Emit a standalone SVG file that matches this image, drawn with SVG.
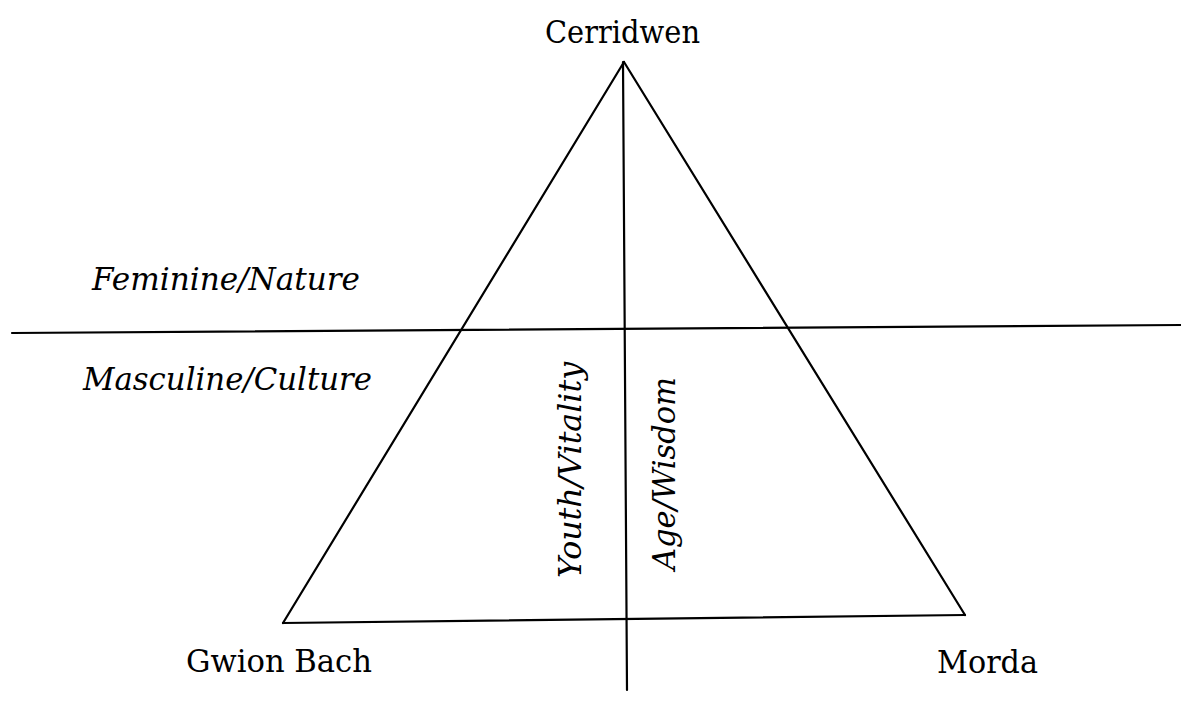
<svg xmlns="http://www.w3.org/2000/svg" width="1181" height="716" viewBox="0 0 1181 716">
<style>
.ln{stroke:#000;stroke-width:2.2;fill:none;stroke-linecap:round}
.lbl{font-family:"DejaVu Serif","Liberation Serif",serif;font-size:31px;fill:#000}
.it{font-family:"DejaVu Serif","Liberation Serif",serif;font-size:31px;font-style:italic;fill:#000}
</style>
<rect width="1181" height="716" fill="#fff"/>
<g id="connectors">
<line class="ln" x1="624" y1="62" x2="283" y2="623"/>
<line class="ln" x1="624" y1="62" x2="965" y2="615"/>
<line class="ln" x1="283" y1="623" x2="965" y2="615"/>
<line class="ln" x1="623" y1="62" x2="627" y2="690"/>
<line class="ln" x1="12" y1="333" x2="1181" y2="325"/>
</g>
<g id="cerridwen"><text class="lbl" x="545" y="43" textLength="155" lengthAdjust="spacingAndGlyphs">Cerridwen</text></g>
<g id="gwion"><text class="lbl" x="186" y="672" textLength="186" lengthAdjust="spacingAndGlyphs">Gwion Bach</text></g>
<g id="morda"><text class="lbl" x="937" y="673" textLength="101" lengthAdjust="spacingAndGlyphs">Morda</text></g>
<g id="feminine"><text class="it" x="92" y="290" textLength="268" lengthAdjust="spacingAndGlyphs">Feminine/Nature</text></g>
<g id="masculine"><text class="it" x="83" y="390" textLength="289" lengthAdjust="spacingAndGlyphs">Masculine/Culture</text></g>
<g id="youth"><text class="it" transform="translate(581,578) rotate(-90)" x="0" y="0" textLength="216" lengthAdjust="spacingAndGlyphs">Youth/Vitality</text></g>
<g id="age"><text class="it" transform="translate(675,570) rotate(-90)" x="0" y="0" textLength="193" lengthAdjust="spacingAndGlyphs">Age/Wisdom</text></g>
</svg>
